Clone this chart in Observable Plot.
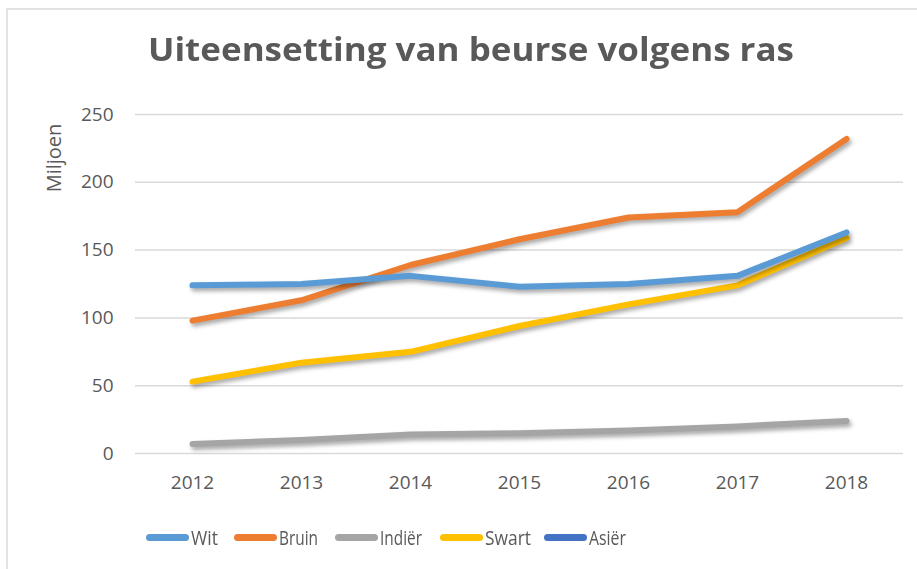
<!DOCTYPE html>
<html>
<head>
<meta charset="utf-8">
<script src="https://cdn.jsdelivr.net/npm/d3@7"></script>
<script src="https://cdn.jsdelivr.net/npm/@observablehq/plot@0.6"></script>
<style>
  html, body { margin: 0; padding: 0; background: #fff; }
  #wrap { position: relative; width: 917px; height: 569px; overflow: hidden; font-family: "Open Sans", sans-serif; color: #595959; }
  #frame { position: absolute; left: 6px; top: 8px; width: 940px; height: 600px; border-left: 2px solid #e2e2e2; border-top: 2px solid #e2e2e2; box-sizing: border-box; }
  #title { position: absolute; left: 148px; top: 26px; font-size: 33px; font-weight: 700; white-space: nowrap; transform-origin: 0 0; color: #595959; }
  #ylabel { position: absolute; left: 53px; top: 158px; font-size: 20px; white-space: nowrap; transform: translate(-50%, -50%) rotate(-90deg); color: #595959; }
  #chart { position: absolute; left: 0; top: 0; }
  .item { position: absolute; top: 524px; display: flex; align-items: center; font-size: 20px; color: #595959; white-space: nowrap; }
  .sw { width: 43px; height: 7px; border-radius: 4px; margin-right: 2px; flex: none; }
  .tx { display: inline-block; transform-origin: 0 50%; }
</style>
</head>
<body>
<div id="wrap">
  <div id="frame"></div>
  <div id="title">Uiteensetting van beurse volgens ras</div>
  <div id="ylabel">Miljoen</div>
  <div id="chart"></div>
</div>
<script>
const years = [2012, 2013, 2014, 2015, 2016, 2017, 2018];
const seriesNames = ["Wit", "Bruin", "Indiër", "Swart", "Asiër"];
const seriesColors = ["#5B9BD5", "#ED7D31", "#A5A5A5", "#FFC000", "#4472C4"];
const wit    = [124, 125, 131, 123, 125, 131, 163];
const bruin  = [98, 113, 139, 158, 174, 178, 232];
const indier = [7, 10, 14, 15, 17, 20, 24];
const swart  = [53, 67, 75, 94, 110, 124, 159];
const asier  = [null, null, null, null, null, null, null];
const yTicks = [0, 50, 100, 150, 200, 250];

const seriesValues = [wit, bruin, indier, swart, asier];
const data = [];
seriesNames.forEach((name, i) => {
  years.forEach((yr, j) => {
    data.push({ series: name, year: yr, value: seriesValues[i][j] });
  });
});
const drawOrder = ["Indiër", "Swart", "Bruin", "Wit", "Asiër"];
const ordered = drawOrder.flatMap(n => data.filter(d => d.series === n));

const chart = Plot.plot({
  width: 917,
  height: 500,
  marginLeft: 135,
  marginRight: 14,
  marginTop: 114,
  marginBottom: 47,
  style: { fontFamily: "Open Sans, sans-serif", fontSize: "19px", color: "#595959", background: "transparent", overflow: "visible" },
  x: { type: "point", domain: years, padding: 0.5, label: null, tickSize: 0, tickPadding: 22, tickFormat: d => String(d) },
  y: { domain: [0, 250], ticks: yTicks, label: null, tickSize: 0, tickPadding: 22 },
  color: { domain: seriesNames, range: seriesColors },
  marks: [
    Plot.ruleY(yTicks, { stroke: "#d9d9d9", strokeWidth: 1.5 }),
    Plot.line(ordered, {
      x: "year", y: "value", z: "series", stroke: "series",
      strokeWidth: 6, strokeLinecap: "round", strokeLinejoin: "round",
      defined: d => d.value != null
    })
  ]
});
document.getElementById("chart").appendChild(chart);
d3.select(chart).selectAll("g[aria-label='line'] path")
  .style("filter", "drop-shadow(2px 3px 2px rgba(0,0,0,0.35))");

// title width fit
const t = document.getElementById("title");
const w = t.getBoundingClientRect().width;
t.style.transform = `scaleX(${646 / w})`;

// legend, one entry per series
const legendLeft = [146, 234, 335, 440, 544];
const legendTextWidth = [27, 39, 42, 46, 37];
const wrap = document.getElementById("wrap");
seriesNames.forEach((n, i) => {
  const it = document.createElement("div");
  it.className = "item";
  it.style.left = legendLeft[i] + "px";
  const sw = document.createElement("div");
  sw.className = "sw";
  sw.style.background = seriesColors[i];
  const tx = document.createElement("span");
  tx.className = "tx";
  tx.textContent = n;
  it.appendChild(sw);
  it.appendChild(tx);
  wrap.appendChild(it);
  const tw = tx.getBoundingClientRect().width;
  tx.style.transform = `scaleX(${legendTextWidth[i] / tw})`;
});
</script>
</body>
</html>
